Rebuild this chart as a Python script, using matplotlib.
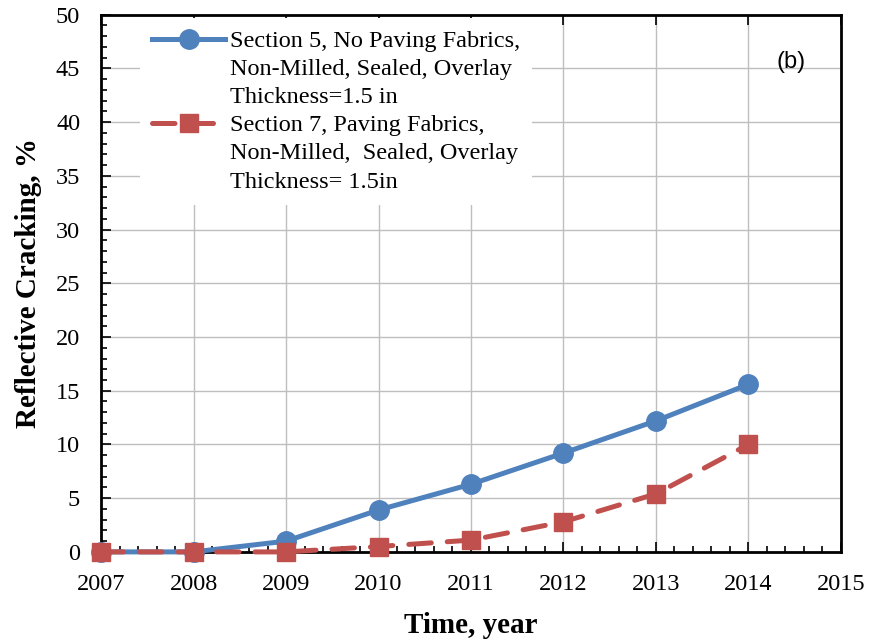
import matplotlib
matplotlib.use("Agg")
import matplotlib.pyplot as plt
from matplotlib.lines import Line2D
from matplotlib.ticker import MultipleLocator

plt.rcParams['font.family'] = ['Liberation Serif', 'DejaVu Serif']

years = [2007, 2008, 2009, 2010, 2011, 2012, 2013, 2014]
section5 = [0.0, 0.0, 1.0, 3.9, 6.3, 9.2, 12.2, 15.6]
section7 = [0.0, 0.0, 0.0, 0.5, 1.1, 2.8, 5.4, 10.0]

label5 = ["Section 5, No Paving Fabrics,", "Non-Milled, Sealed, Overlay", "Thickness=1.5 in"]
label7 = ["Section 7, Paving Fabrics,", "Non-Milled,  Sealed, Overlay", "Thickness= 1.5in"]

blue = '#4F81BD'
red = '#C0504D'

fig = plt.figure(figsize=(8.71, 6.41), dpi=100)
ax = fig.add_axes([0.116, 0.139, 0.8495, 0.838])

l5, = ax.plot(years, section5, color=blue, lw=3.6, marker='o', markersize=14,
              zorder=3, clip_on=False)
l7, = ax.plot(years, section7, color=red, lw=3.6, ls=(0, (4.5, 3.2)),
              dash_capstyle='round', marker='s', markersize=13.5,
              zorder=4, clip_on=False)

ax.set_xlim(2007, 2015)
ax.set_ylim(0, 50)
ax.xaxis.set_major_locator(MultipleLocator(1))
ax.xaxis.set_minor_locator(MultipleLocator(0.2))
ax.yaxis.set_major_locator(MultipleLocator(5))
ax.yaxis.set_minor_locator(MultipleLocator(1))
ax.tick_params(which='both', direction='in', labelsize=17.5, width=1.2, right=False)
ax.tick_params(which='major', length=7, top=True)
ax.tick_params(which='minor', length=4, top=False)
ax.tick_params(axis='x', which='major', pad=16)
ax.tick_params(axis='y', which='major', pad=15)
ax.grid(True, which='major', color='#BEBEBE', lw=1.0)
ax.set_axisbelow(True)
for s in ax.spines.values():
    s.set_linewidth(2)

ax.set_xlabel('Time, year', fontsize=21, fontweight='bold', labelpad=12)
ax.set_ylabel('Reflective Cracking, %', fontsize=21, fontweight='bold', labelpad=10)

# legend: handle drawn beside the first line of each multi-line label
blank = Line2D([], [], color='none')
handles = [l5, blank, blank, l7, blank, blank]
labels = label5 + label7
leg = ax.legend(handles, labels, loc='upper left', bbox_to_anchor=(0.0527, 0.994),
                borderaxespad=0, frameon=True, fontsize=17.5, handlelength=3.0,
                handletextpad=0.2, labelspacing=0.25, borderpad=0.5,
                fancybox=False)
leg.get_frame().set_edgecolor('white')
leg.get_frame().set_facecolor('white')
leg.get_frame().set_alpha(1.0)
leg.get_frame().set_linewidth(0)
leg.set_zorder(5)

ax.text(0.933, 0.912, '(b)', transform=ax.transAxes, fontsize=17,
        family='Liberation Sans', ha='center', va='center')

fig.savefig('out.png', dpi=100)
